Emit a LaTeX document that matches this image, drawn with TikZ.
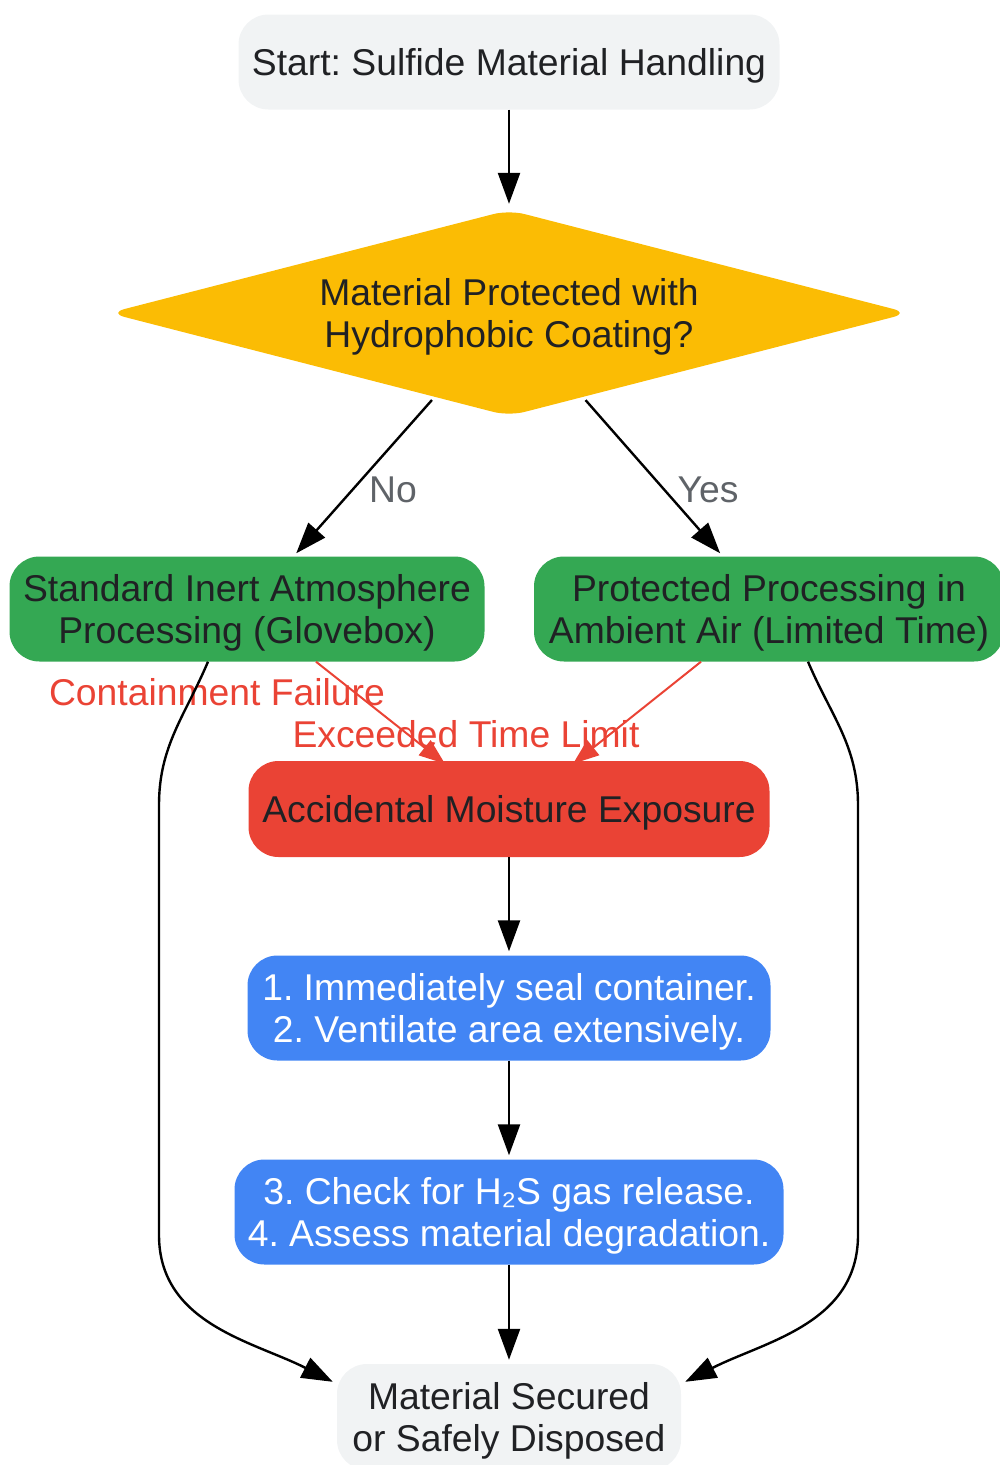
\documentclass[tikz,border=0pt]{standalone}
\usepackage{fontspec}
\setmainfont{Liberation Sans}
\usetikzlibrary{shapes.geometric,arrows.meta}
\definecolor{ink}{HTML}{202124}
\definecolor{lightbg}{HTML}{F1F3F4}
\definecolor{gyellow}{HTML}{FBBC04}
\definecolor{ggreen}{HTML}{34A853}
\definecolor{gred}{HTML}{EA4335}
\definecolor{gblue}{HTML}{4285F4}
\definecolor{lblgray}{HTML}{5F6368}
\frenchspacing
\begin{document}
\begin{tikzpicture}[x=1pt,y=-1pt,
  every node/.style={font=\fontsize{37.3}{42}\selectfont, align=center, inner sep=0pt},
  box/.style={rounded corners=30pt, text=ink, text depth=0pt},
  arr/.style={line width=2.4pt, -{Triangle[length=31pt,width=22pt]}},
  redarr/.style={line width=2pt, draw=gred, -{Triangle[length=26pt,width=19pt]}, color=gred},
  lbl/.style={text=lblgray},
  redlbl/.style={text=gred}]
\useasboundingbox (0,0) rectangle (1000,1465);
\node (start) [box, fill=lightbg, minimum width=541pt, minimum height=95pt] at (509,62) {Start: Sulfide Material Handling};
\node (dec) [diamond, aspect=3.9, fill=gyellow, text=ink, text depth=0pt, rounded corners=16pt, minimum width=800pt, minimum height=206pt] at (509,313) {Material Protected with\\Hydrophobic Coating?};
\node (std) [box, fill=ggreen, minimum width=475pt, minimum height=105pt] at (247,609) {Standard Inert Atmosphere\\Processing (Glovebox)};
\node (prot) [box, fill=ggreen, minimum width=470pt, minimum height=105pt] at (769,609) {Protected Processing in\\Ambient Air (Limited Time)};
\node (acc) [box, fill=gred, minimum width=521pt, minimum height=96pt] at (509,809) {Accidental Moisture Exposure};
\node (seal) [box, fill=gblue, text=white, minimum width=523pt, minimum height=105pt] at (509,1008) {1. Immediately seal container.\\2. Ventilate area extensively.};
\node (check) [box, fill=gblue, text=white, minimum width=549pt, minimum height=105pt] at (509,1212) {3. Check for H₂S gas release.\\4. Assess material degradation.};
\node (done) [box, fill=lightbg, minimum width=344pt, minimum height=106pt] at (509,1417) {Material Secured\\or Safely Disposed};

\draw [arr, shorten >=6pt] (start) -- (dec);
\draw [arr, shorten <=4pt, shorten >=4pt] (dec) -- (std);
\draw [arr, shorten <=4pt, shorten >=4pt] (dec) -- (prot);
\node (no) [lbl] at (393,490) {No};
\node (yes) [lbl] at (708,490) {Yes};

\draw [redarr] ([xshift=69pt]std.south) -- ([xshift=-64pt,yshift=-3pt]acc.north);
\draw [redarr] ([xshift=-68pt]prot.south) -- ([xshift=64pt,yshift=-3pt]acc.north);
\node (fail) [redlbl] at (217,692) {Containment Failure};
\node (late) [redlbl] at (466,734) {Exceeded Time Limit};

\draw [arr, shorten >=4pt] (acc) -- (seal);
\draw [arr, shorten >=4pt] (seal) -- (check);
\draw [arr, shorten >=4pt] (check) -- (done);

\coordinate (l1) at (159,805);
\coordinate (l2) at (159,1235);
\coordinate (r1) at (858,805);
\coordinate (r2) at (858,1235);
\draw [arr] ([xshift=-39pt]std.south) to[out=-113,in=90] (l1) -- (l2) to[out=-90,in=153] ([xshift=-4pt,yshift=-18pt]done.north west);
\draw [arr] ([xshift=39pt]prot.south) to[out=-67,in=90] (r1) -- (r2) to[out=-90,in=27] ([xshift=4pt,yshift=-18pt]done.north east);
\end{tikzpicture}
\end{document}
